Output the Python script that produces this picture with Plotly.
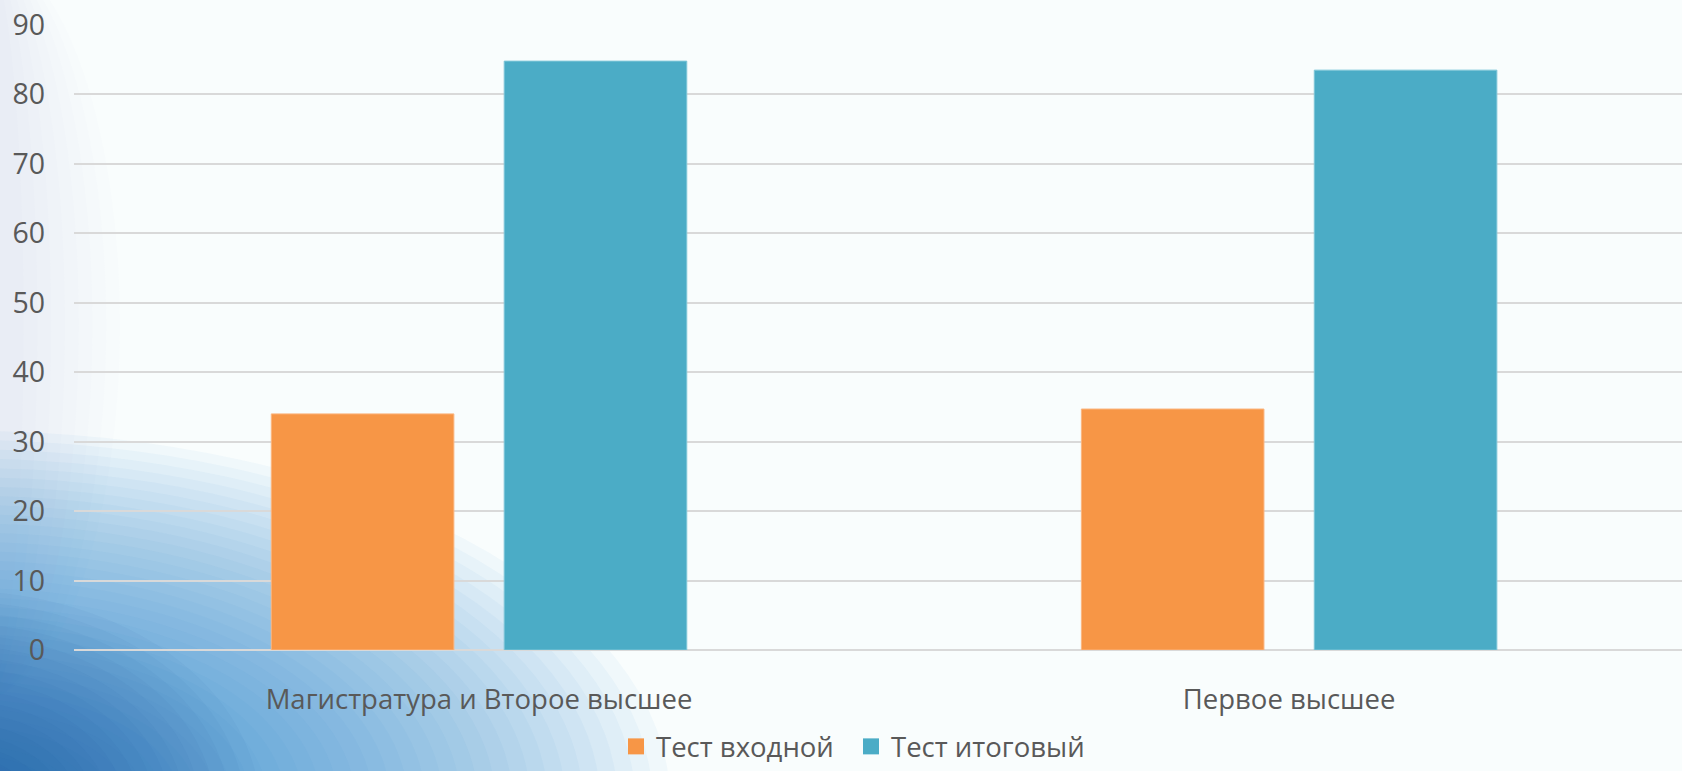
import plotly.graph_objects as go

categories = ["Магистратура и Второе высшее", "Первое высшее"]
test_in = [34.0, 34.7]
test_out = [84.8, 83.5]
series_names = ["Тест входной", "Тест итоговый"]
series_colors = ["#F79646", "#4BACC6"]
y_ticks = [0, 10, 20, 30, 40, 50, 60, 70, 80, 90]

W, H = 1682, 771
ML, MR, MT, MB = 74, 0, 25, 121
PW = W - ML - MR
PH = H - MT - MB

def px_x(px):
    return (px - ML) / PW

def px_y(py):
    return (H - MB - py) / PH

TEXT = "#595959"
FONT = "Open Sans"
FS = 27.5

fig = go.Figure()
fig.add_trace(go.Bar(x=categories, y=test_in, name=series_names[0], showlegend=False,
                     marker=dict(color=series_colors[0], line=dict(color="#FBB57F", width=1))))
fig.add_trace(go.Bar(x=categories, y=test_out, name=series_names[1], showlegend=False,
                     marker=dict(color=series_colors[1], line=dict(color="#7FC6D8", width=1))))
# legend entries with larger square symbols
for nm, col in zip(series_names, series_colors):
    fig.add_trace(go.Scatter(x=[None], y=[None], mode="markers", name=nm,
                             marker=dict(symbol="square", size=17, color=col)))

shapes = []
def ellipse_stack(cx, cy, rx_max, ry_max, n, color, op):
    for i in range(n):
        f = 1 - i / n
        rx = rx_max * f
        ry = ry_max * f
        shapes.append(dict(type="circle", xref="paper", yref="paper", layer="below",
                           x0=px_x(cx - rx), x1=px_x(cx + rx),
                           y0=px_y(cy + ry), y1=px_y(cy - ry),
                           fillcolor=color, opacity=op, line=dict(width=0)))

# faint tint on the left edge
for i in range(8):
    f = 1 - i / 8
    shapes.append(dict(type="circle", xref="paper", yref="paper", layer="below",
                       x0=px_x(-120 * f - 40), x1=px_x(110 * f + 10),
                       y0=px_y(700), y1=px_y(-50),
                       fillcolor="#c8d8f0", opacity=0.04, line=dict(width=0)))
# background gradient in bottom-left corner (layered translucent ellipses)
ellipse_stack(-30, H + 30, 700, 370, 40, "#2a82d8", 0.045)
ellipse_stack(-40, H + 40, 300, 220, 20, "#1a5096", 0.04)

fig.update_layout(
    width=W, height=H,
    margin=dict(l=ML, r=MR, t=MT, b=MB),
    paper_bgcolor="#F9FDFD",
    plot_bgcolor="rgba(0,0,0,0)",
    barmode="group",
    bargap=0.425,
    bargroupgap=0.216,
    font=dict(family=FONT, size=FS, color=TEXT),
    shapes=shapes,
    legend=dict(orientation="h", x=851 / W, xanchor="center", xref="container",
                y=0.0, yanchor="bottom", yref="container",
                font=dict(size=FS, color=TEXT), bgcolor="rgba(0,0,0,0)",
                itemwidth=30, entrywidth=190, traceorder="normal"),
    showlegend=True,
)
fig.update_xaxes(range=[-0.5, 1.485], showgrid=False, showline=False, zeroline=False,
                 ticks="", ticklabelstandoff=30, tickfont=dict(size=FS, color=TEXT))
fig.update_yaxes(range=[0, 90], tickvals=y_ticks, showgrid=True, gridcolor="#D9D9D9",
                 gridwidth=2, zeroline=True, zerolinecolor="#D9D9D9", zerolinewidth=2,
                 showline=False, ticks="", ticklabelstandoff=28,
                 tickfont=dict(size=28.5, color=TEXT))

fig.write_html("out.html")
